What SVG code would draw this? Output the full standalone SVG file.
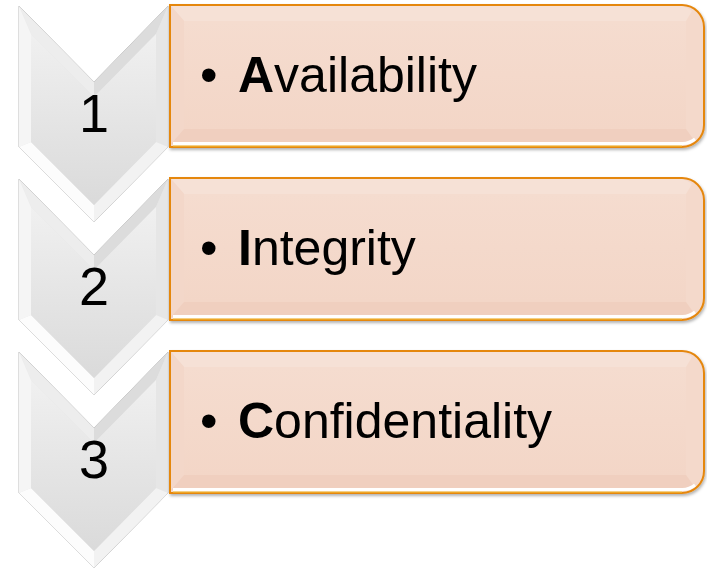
<svg xmlns="http://www.w3.org/2000/svg" width="707" height="571" viewBox="0 0 707 571">
<defs>
<linearGradient id="chevIn" x1="0" y1="0" x2="0" y2="1">
<stop offset="0" stop-color="#f0f0f0"/>
<stop offset="1" stop-color="#dadada"/>
</linearGradient>
<linearGradient id="boxIn" x1="0" y1="0" x2="0" y2="1">
<stop offset="0" stop-color="#f5dccf"/>
<stop offset="1" stop-color="#f3d6c7"/>
</linearGradient>
<filter id="sh" x="-5%" y="-5%" width="110%" height="115%">
<feDropShadow dx="1" dy="2" stdDeviation="1.5" flood-color="#000" flood-opacity="0.3"/>
</filter>
<g id="chev">
<polygon points="0,0 75,76 149,0 149,141 75,216 0,141" fill="#e4e4e4" stroke="#bdbdbd" stroke-width="1"/>
<polygon points="0,0 75,76 75,91 12,28" fill="#ededed"/>
<polygon points="149,0 137,28 75,91 75,76" fill="#dcdcdc"/>
<polygon points="0,0 12,28 12,136 0,141" fill="#f5f5f5"/>
<polygon points="149,141 137,136 137,28 149,0" fill="#e6e6e6"/>
<polygon points="0,141 12,136 75,199 75,216" fill="#fcfcfc"/>
<polygon points="75,216 75,199 137,136 149,141" fill="#f2f2f2"/>
<polygon points="12,28 75,91 137,28 137,136 75,199 12,136" fill="url(#chevIn)"/>
</g>
<g id="box">
<path d="M0,0 H512 A22,22 0 0 1 534,22 V120 A22,22 0 0 1 512,142 H0 Z" fill="#f4d9cb" stroke="#e5870f" stroke-width="2" filter="url(#sh)"/>
<path d="M1,1 H511 A21,21 0 0 1 522,6 L516,16 H14 Z" fill="#f6e1d6"/>
<path d="M1,1 L14,16 V124 L1,138 Z" fill="#f3d7c9"/>
<path d="M14,124 H516 L524,135 A21,21 0 0 1 512,139 H1 Z" fill="#f0cfbf"/>
<path d="M14,16 H516 V124 H14 Z" fill="url(#boxIn)"/>
<path d="M3,138.5 H512 A20,20 0 0 0 525,134" fill="none" stroke="#ffffff" stroke-width="3"/>
<path d="M3,141 H512" fill="none" stroke="#f5c542" stroke-width="1"/>
</g>
</defs>
<style>
.num{font-family:"Liberation Sans",Arial,sans-serif;font-size:54px;fill:#000;text-anchor:middle}
.lbl{font-family:"Liberation Sans",Arial,sans-serif;font-size:50px;fill:#000}
.b{font-weight:bold}
</style>
<g id="connectors"/>
<g id="step1">
<use href="#chev" transform="translate(19,6)"/>
<text class="num" x="94" y="132">1</text>
</g>
<g id="step2">
<use href="#chev" transform="translate(19,179)"/>
<text class="num" x="94" y="305">2</text>
</g>
<g id="step3">
<use href="#chev" transform="translate(19,352)"/>
<text class="num" x="94" y="478">3</text>
</g>
<g id="box1">
<use href="#box" transform="translate(170,5)"/>
<text class="lbl" x="200" y="92">•</text>
<text class="lbl" x="238" y="92"><tspan class="b">A</tspan>vailability</text>
</g>
<g id="box2">
<use href="#box" transform="translate(170,178)"/>
<text class="lbl" x="200" y="265">•</text>
<text class="lbl" x="238" y="265"><tspan class="b">I</tspan>ntegrity</text>
</g>
<g id="box3">
<use href="#box" transform="translate(170,351)"/>
<text class="lbl" x="200" y="438">•</text>
<text class="lbl" x="238" y="438"><tspan class="b">C</tspan>onfidentiality</text>
</g>
</svg>
